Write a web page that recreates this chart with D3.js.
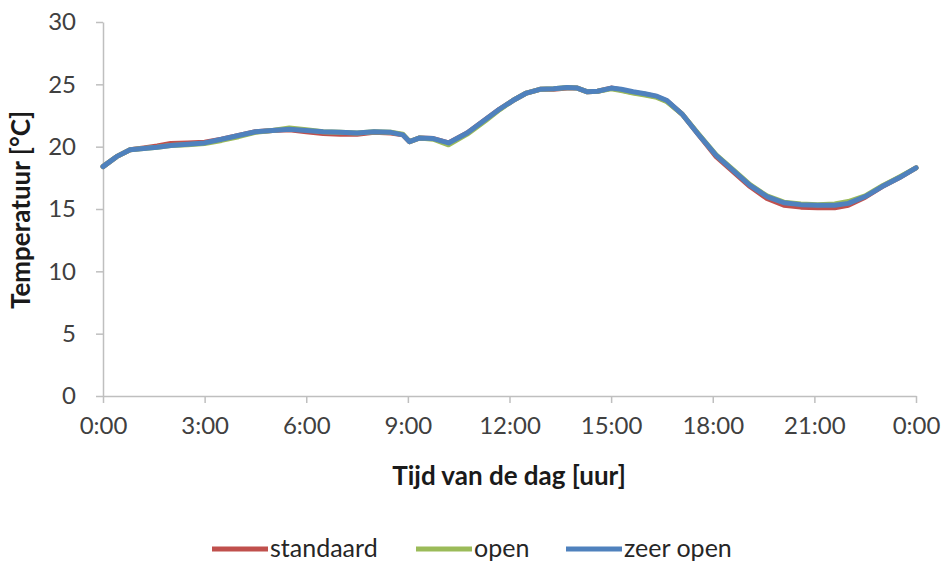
<!DOCTYPE html>
<meta charset="utf-8">
<head>
  <title>Temperatuur over de dag</title>
</head>

<style>
  body {
    margin: 0;
    background: #fff;
    font-family: Lato, "Open Sans", sans-serif;
  }
  .axis text {
    font-family: Lato, sans-serif;
    font-size: 24px;
    fill: #404040;
  }
  .axis path, .axis line {
    stroke: #bfbfbf;
    stroke-width: 1.5;
  }
</style>

<body>
<svg id="chart" width="943" height="562"></svg>

<script src="https://cdnjs.cloudflare.com/ajax/libs/d3/7.8.5/d3.min.js"></script>
<script>
  // tijd in uren
  var hours = [0, 0.4, 0.8, 1.2, 1.6, 2.0, 2.5, 3.0, 3.5, 4.0, 4.5, 5.0, 5.5, 6.0, 6.5, 7.0, 7.5, 8.0, 8.5, 8.85,
    9.05, 9.35, 9.75, 10.2, 10.75, 11.3, 11.7, 12.1, 12.5, 12.9, 13.3, 13.7, 14.0, 14.3, 14.6, 15.0, 15.3, 15.65,
    16.0, 16.35, 16.65, 17.1, 17.6, 18.1, 18.6, 19.1, 19.6, 20.1, 20.6, 21.1, 21.6, 22.0, 22.5, 23.0, 23.5, 24.0];

  var standaard = [18.4, 19.2, 19.75, 19.9, 20.05, 20.25, 20.3, 20.35, 20.6, 20.9, 21.2, 21.3, 21.35, 21.2, 21.05, 21.0, 21.0, 21.15, 21.1, 20.95,
    20.4, 20.7, 20.65, 20.3, 21.1, 22.2, 23.0, 23.7, 24.3, 24.6, 24.6, 24.7, 24.7, 24.4, 24.45, 24.7, 24.55, 24.35,
    24.2, 24.0, 23.65, 22.6, 20.9, 19.2, 18.0, 16.8, 15.85, 15.3, 15.15, 15.1, 15.1, 15.3, 15.95, 16.8, 17.5, 18.3];

  var open = [18.4, 19.2, 19.75, 19.85, 19.95, 20.1, 20.15, 20.25, 20.5, 20.8, 21.15, 21.3, 21.5, 21.35, 21.2, 21.15, 21.1, 21.2, 21.15, 21.0,
    20.4, 20.7, 20.6, 20.15, 21.0, 22.1, 22.95, 23.7, 24.3, 24.6, 24.65, 24.75, 24.7, 24.4, 24.45, 24.65, 24.5, 24.3,
    24.15, 23.95, 23.6, 22.6, 20.95, 19.35, 18.15, 16.95, 16.05, 15.55, 15.4, 15.35, 15.4, 15.6, 16.05, 16.85, 17.55, 18.3];

  var zeerOpen = [18.4, 19.2, 19.75, 19.85, 19.95, 20.1, 20.2, 20.3, 20.6, 20.9, 21.2, 21.3, 21.4, 21.3, 21.2, 21.15, 21.1, 21.2, 21.15, 20.95,
    20.4, 20.7, 20.65, 20.3, 21.1, 22.2, 23.0, 23.7, 24.3, 24.6, 24.65, 24.75, 24.7, 24.4, 24.45, 24.7, 24.6, 24.4,
    24.25, 24.05, 23.7, 22.6, 20.9, 19.3, 18.1, 16.9, 16.0, 15.5, 15.35, 15.3, 15.3, 15.45, 16.0, 16.8, 17.5, 18.3];

  var seriesNames = ["standaard", "open", "zeer open"];
  var seriesColors = ["#c0504d", "#9bbb59", "#4f81bd"];
  var xTicks = [0, 3, 6, 9, 12, 15, 18, 21, 24];
  var yTicks = [0, 5, 10, 15, 20, 25, 30];

  var series = [standaard, open, zeerOpen].map(function(vals, i) {
    return {
      name: seriesNames[i],
      color: seriesColors[i],
      points: vals.map(function(v, j) { return { h: hours[j], t: v }; })
    };
  });

  var svg = d3.select('#chart');

  var x = d3.scaleLinear()
    .domain([0, 24])
    .range([103, 916]);

  var y = d3.scaleLinear()
    .domain([0, 30])
    .range([396, 22]);

  // y-as
  svg.append('g')
    .attr('class', 'axis')
    .attr('transform', 'translate(103,0)')
    .call(d3.axisLeft(y).tickValues(yTicks).tickSize(7).tickSizeOuter(0).tickPadding(20));

  // x-as
  svg.append('g')
    .attr('class', 'axis')
    .attr('transform', 'translate(0,396)')
    .call(d3.axisBottom(x).tickValues(xTicks).tickSize(7).tickSizeOuter(0).tickPadding(14)
      .tickFormat(function(d) { return (d % 24) + ':00'; }));

  var line = d3.line()
    .x(function(d) { return x(d.h); })
    .y(function(d) { return y(d.t); });

  svg.selectAll('path.serie')
    .data(series)
    .enter()
    .append('path')
    .attr('class', 'serie')
    .attr('d', function(d) { return line(d.points); })
    .attr('fill', 'none')
    .attr('stroke', function(d) { return d.color; })
    .attr('stroke-width', 5)
    .attr('stroke-linejoin', 'round')
    .attr('stroke-linecap', 'round');

  // as-titels
  svg.append('text')
    .attr('transform', 'translate(30,210) rotate(-90)')
    .attr('text-anchor', 'middle')
    .style('font-size', '26px')
    .style('font-weight', 'bold')
    .style('fill', '#1a1a1a')
    .text('Temperatuur [°C]');

  svg.append('text')
    .attr('x', 509)
    .attr('y', 485)
    .attr('text-anchor', 'middle')
    .style('font-size', '26px')
    .style('font-weight', 'bold')
    .style('fill', '#1a1a1a')
    .text('Tijd van de dag [uur]');

  // legenda
  var legendX = [212, 416, 566];
  var legend = svg.selectAll('g.legend')
    .data(series)
    .enter()
    .append('g')
    .attr('class', 'legend')
    .attr('transform', function(d, i) { return 'translate(' + legendX[i] + ',549)'; });

  legend.append('line')
    .attr('x1', 0)
    .attr('x2', 56)
    .attr('stroke', function(d) { return d.color; })
    .attr('stroke-width', 5);

  legend.append('text')
    .attr('x', 58)
    .attr('y', 8)
    .style('font-size', '25px')
    .style('fill', '#262626')
    .text(function(d) { return d.name; });
</script>
</body>
</html>
